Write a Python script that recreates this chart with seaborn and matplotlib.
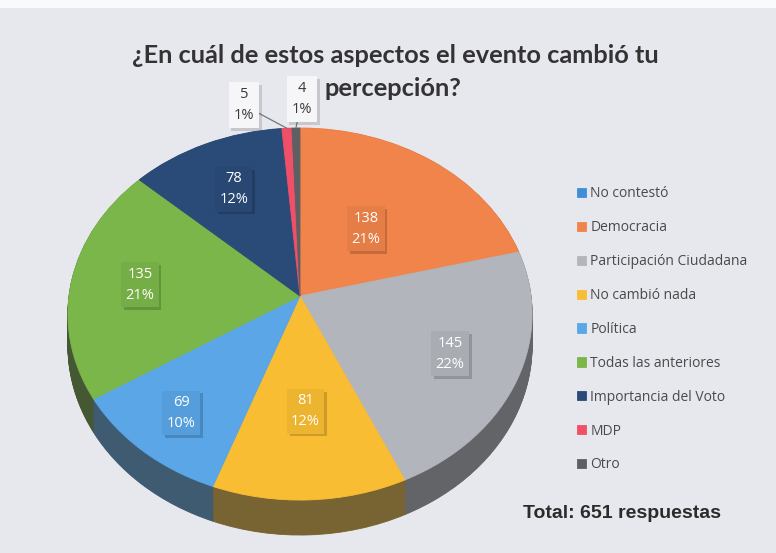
import numpy as np
import matplotlib
matplotlib.use("Agg")
import matplotlib.pyplot as plt
import matplotlib.transforms as mtransforms
import matplotlib.patheffects as pe
from matplotlib.patches import Rectangle
import seaborn as sns

# datos
categorias = ["No contestó", "Democracia", "Participación Ciudadana", "No cambió nada",
              "Política", "Todas las anteriores", "Importancia del Voto", "MDP", "Otro"]
respuestas = [0, 138, 145, 81, 69, 135, 78, 5, 4]
porcentajes = ["0%", "21%", "22%", "12%", "10%", "21%", "12%", "1%", "1%"]
colores = ["#3f8ed8", "#f0844a", "#b3b5bd", "#f9bd33", "#5aa6e6", "#7bb64a",
           "#2a4b78", "#ef5068", "#5e5f63"]
titulo = ["¿En cuál de estos aspectos el evento cambió tu", "percepción?"]
total_txt = "Total: 651 respuestas"

sns.set_theme(style="white")
plt.rcParams["font.family"] = ["Open Sans", "DejaVu Sans"]

# geometria del pastel inclinado (pixeles)
CX, CY = 300.0, 296.0
RX, RY, K = 231.0, 184.3, 0.0968
PROF = 31.6


class Inclinado(mtransforms.Transform):
    input_dims = 2
    output_dims = 2
    is_separable = False
    has_inverse = False

    def __init__(self, dz=0.0):
        super().__init__()
        self.dz = dz

    def transform_non_affine(self, values):
        values = np.asarray(values, dtype=float)
        u, v = values[:, 0], values[:, 1]
        w = 1 + K * v
        return np.column_stack([CX + RX * u / w, CY + (-RY * v + self.dz) / w])


def oscuro(c, f=0.55, gris=0.35):
    rgb = np.array(matplotlib.colors.to_rgb(c))
    rgb = (1 - gris) * rgb + gris * rgb.mean()
    return tuple(rgb * f)


fig = plt.figure(figsize=(7.76, 5.53), dpi=100, facecolor="#e7e7ee")
ax = fig.add_axes([0, 0, 1, 1])
fig.patches.append(Rectangle((0, 1 - 8 / 553), 1, 8 / 553, transform=fig.transFigure,
                             facecolor="#fafafa", edgecolor="none", zorder=0))

# costado (capas oscuras)
lados = [oscuro(c) for c in colores]
for dz in np.linspace(PROF, 0.5, 40):
    cuñas, _ = ax.pie(respuestas, colors=lados, startangle=90, counterclock=False,
                      wedgeprops=dict(linewidth=0.6))
    for c in cuñas:
        c.set_edgecolor(c.get_facecolor())
        c.set_transform(Inclinado(dz) + ax.transData)

# cara superior
arriba, _ = ax.pie(respuestas, colors=colores, startangle=90, counterclock=False,
                   wedgeprops=dict(linewidth=0.6))
for c in arriba:
    c.set_edgecolor(c.get_facecolor())
    c.set_transform(Inclinado(0) + ax.transData)

ax.set_aspect("auto")
ax.set_xlim(0, 776)
ax.set_ylim(553, 0)
ax.axis("off")

# etiquetas dentro de las porciones
radios = [0, 0.48, 0.70, 0.59, 0.77, 0.70, 0.685]
tf = Inclinado(0)
for i in range(1, 7):
    w = arriba[i]
    ang = np.deg2rad((w.theta1 + w.theta2) / 2)
    x, y = tf.transform_non_affine(np.array([[radios[i] * np.cos(ang), radios[i] * np.sin(ang)]]))[0]
    caja = tuple(np.array(matplotlib.colors.to_rgb(colores[i])) * 0.95)
    t = ax.text(x, y, f"{respuestas[i]}\n{porcentajes[i]}", ha="center", va="center",
                color="white", fontsize=10.5, linespacing=1.55,
                bbox=dict(boxstyle="square,pad=0.3", fc=caja, ec="none"))
    t.get_bbox_patch().set_path_effects([pe.SimplePatchShadow(offset=(2, -2), alpha=0.25),
                                         pe.Normal()])

# etiquetas externas (MDP, Otro)
desplaz = {7: (-43, 23), 8: (6, 29)}
for i, (dx, dy) in desplaz.items():
    w = arriba[i]
    ang = np.deg2rad((w.theta1 + w.theta2) / 2)
    x, y = tf.transform_non_affine(np.array([[np.cos(ang), np.sin(ang)]]))[0]
    t = ax.annotate(f"{respuestas[i]}\n{porcentajes[i]}", xy=(x, y), xytext=(dx, dy),
                    textcoords="offset pixels", ha="center", va="center",
                    color="#3a3a3a", fontsize=10.5, linespacing=1.55,
                    bbox=dict(boxstyle="square,pad=0.35", fc="#f6f6f8", ec="none"),
                    arrowprops=dict(arrowstyle="-", color="#6d7a80", lw=0.9,
                                    shrinkA=0, shrinkB=0))
    t.get_bbox_patch().set_path_effects([pe.SimplePatchShadow(offset=(2, -2), alpha=0.2),
                                         pe.Normal()])

# leyenda
ley = ax.legend(arriba, categorias, loc="upper left", bbox_to_anchor=(0.743, 0.663),
                frameon=False, fontsize=10, handlelength=0.65, handleheight=0.65,
                handletextpad=0.35, labelspacing=1.36, borderpad=0, borderaxespad=0)
for txt in ley.get_texts():
    txt.set_color("#4a4a4a")

fig.text(395 / 776, 1 - 55 / 553, titulo[0], ha="center", va="center", fontsize=18.3,
         fontweight="bold", family=["Lato", "DejaVu Sans"], color="#333333")
fig.text(393 / 776, 1 - 89 / 553, titulo[1], ha="center", va="center", fontsize=18.3,
         fontweight="bold", family=["Lato", "DejaVu Sans"], color="#333333")
fig.text(523 / 776, 1 - 513 / 553, total_txt, ha="left", va="center", fontsize=14,
         fontweight="bold", family=["Liberation Sans", "DejaVu Sans"], color="#2b2b2b")

fig.savefig("out.png", dpi=100, facecolor=fig.get_facecolor())
